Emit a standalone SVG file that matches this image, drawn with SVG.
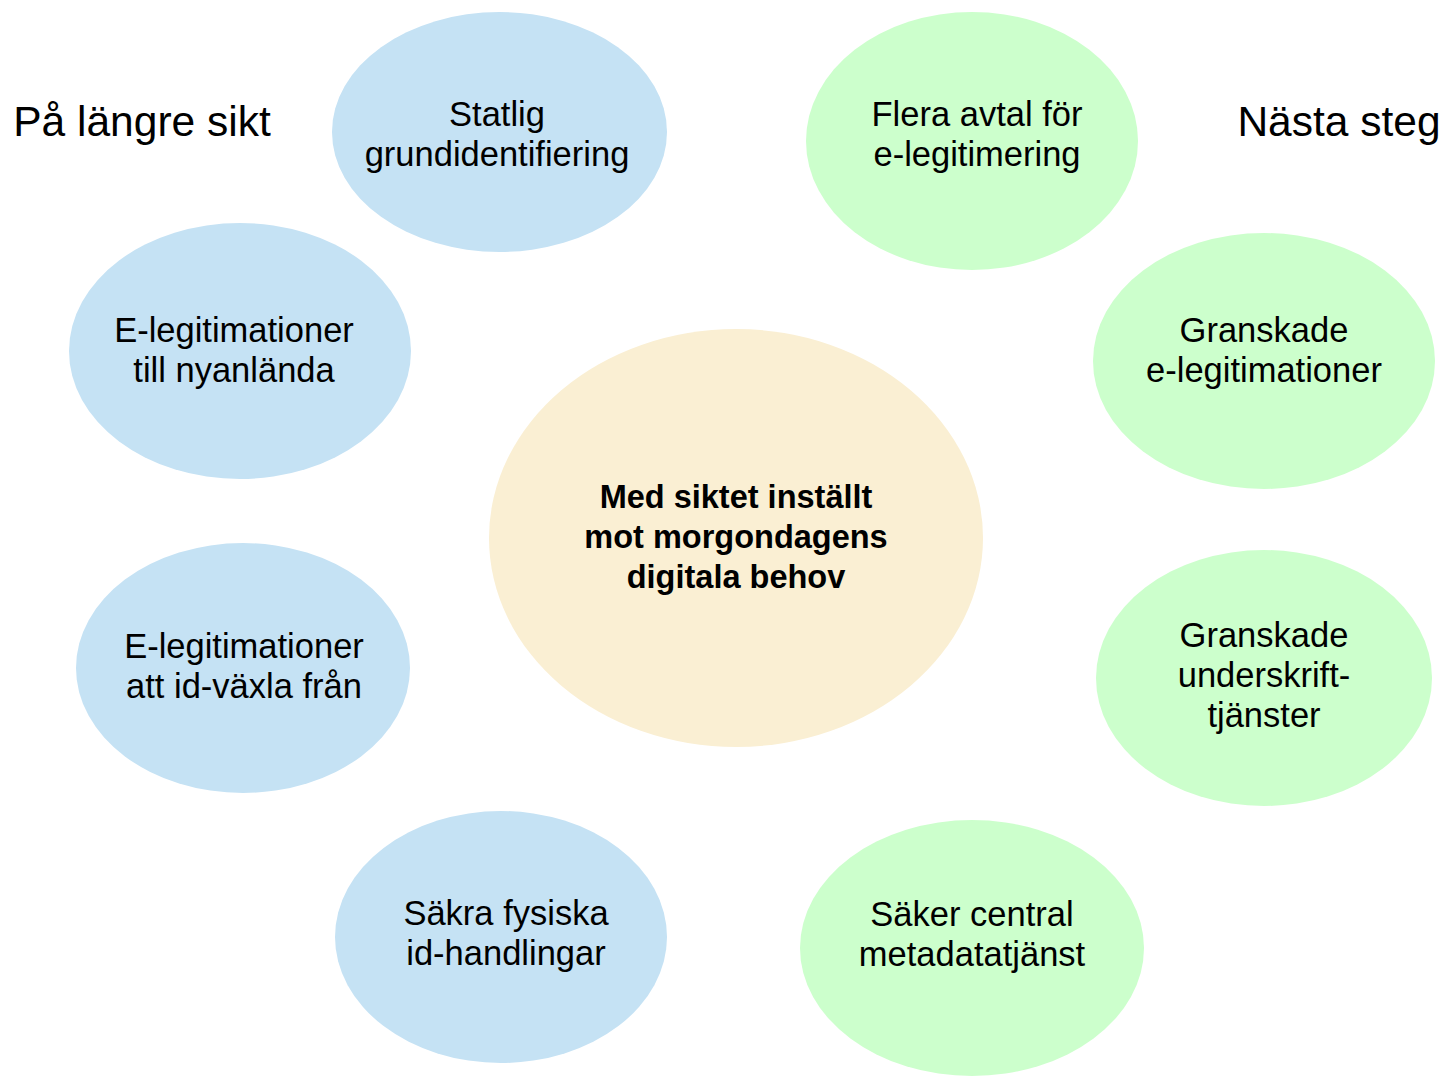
<svg xmlns="http://www.w3.org/2000/svg" width="1445" height="1076" viewBox="0 0 1445 1076">
<style>
.blue{fill:#C5E2F4}
.green{fill:#CCFFCC}
.core{fill:#FAEFD3}
text{font-family:"Liberation Sans",Arial,sans-serif;fill:#000;text-anchor:middle}
.lbl{font-size:34.5px}
.bold{font-size:32.5px;font-weight:bold}
.title{font-size:42.5px}
</style>
<rect width="1445" height="1076" fill="#fff"/>
<g id="connectors"></g>
<g id="title-left"><text class="title" x="142" y="136">På längre sikt</text></g>
<g id="title-right"><text class="title" x="1339" y="136">Nästa steg</text></g>
<g id="center"><ellipse class="core" cx="736" cy="538" rx="247" ry="209"/>
<text class="bold" x="736" y="508">Med siktet inställt</text>
<text class="bold" x="736" y="548">mot morgondagens</text>
<text class="bold" x="736" y="588">digitala behov</text></g>
<g id="statlig"><ellipse class="blue" cx="499.5" cy="132" rx="167.5" ry="120"/>
<text class="lbl" x="497" y="126">Statlig</text>
<text class="lbl" x="497" y="166">grundidentifiering</text></g>
<g id="nyanlanda"><ellipse class="blue" cx="240" cy="351" rx="171" ry="128"/>
<text class="lbl" x="234" y="342">E-legitimationer</text>
<text class="lbl" x="234" y="382">till nyanlända</text></g>
<g id="idvaxla"><ellipse class="blue" cx="243" cy="668" rx="167" ry="125"/>
<text class="lbl" x="244" y="658">E-legitimationer</text>
<text class="lbl" x="244" y="698">att id-växla från</text></g>
<g id="fysiska"><ellipse class="blue" cx="501" cy="937" rx="166" ry="126"/>
<text class="lbl" x="506" y="925">Säkra fysiska</text>
<text class="lbl" x="506" y="965">id-handlingar</text></g>
<g id="flera"><ellipse class="green" cx="972" cy="141" rx="166" ry="129"/>
<text class="lbl" x="977" y="126">Flera avtal för</text>
<text class="lbl" x="977" y="166">e-legitimering</text></g>
<g id="granskade-eleg"><ellipse class="green" cx="1264" cy="361" rx="171" ry="128"/>
<text class="lbl" x="1264" y="342">Granskade</text>
<text class="lbl" x="1264" y="382">e-legitimationer</text></g>
<g id="granskade-underskrift"><ellipse class="green" cx="1264" cy="678" rx="168" ry="128"/>
<text class="lbl" x="1264" y="647">Granskade</text>
<text class="lbl" x="1264" y="687">underskrift-</text>
<text class="lbl" x="1264" y="727">tjänster</text></g>
<g id="metadata"><ellipse class="green" cx="972" cy="948" rx="172" ry="128"/>
<text class="lbl" x="972" y="926">Säker central</text>
<text class="lbl" x="972" y="966">metadatatjänst</text></g>
</svg>
